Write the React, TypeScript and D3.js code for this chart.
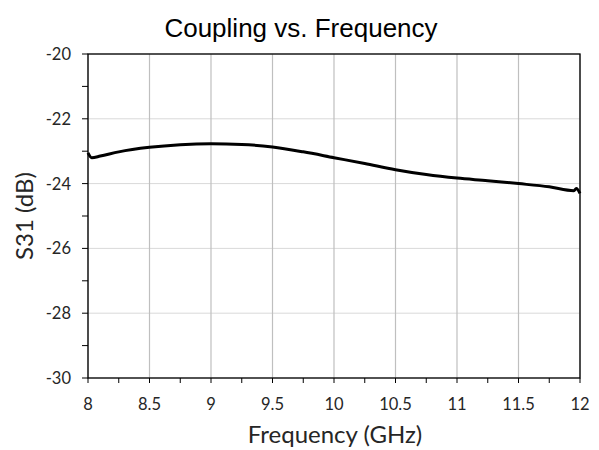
import React from "react";
import * as d3 from "d3";

const freqGHz = [8.0, 8.03, 8.1, 8.25, 8.5, 8.75, 9.0, 9.25, 9.5, 9.75, 10.0, 10.25, 10.5, 10.75, 11.0, 11.25, 11.5, 11.75, 11.95, 11.97, 12.0];
const s31dB = [-23.05, -23.2, -23.15, -23.02, -22.88, -22.8, -22.77, -22.79, -22.87, -23.02, -23.2, -23.38, -23.57, -23.72, -23.83, -23.91, -24.0, -24.1, -24.22, -24.15, -24.3];
const xTicks = [8, 8.5, 9, 9.5, 10, 10.5, 11, 11.5, 12];
const yTicks = [-20, -22, -24, -26, -28, -30];
const title = "Coupling vs. Frequency";
const xTitle = "Frequency (GHz)";
const yTitle = "S31 (dB)";

export default function App() {
  const W = 599, H = 450;
  const left = 88, right = 580, top = 54, bottom = 378;
  const x = d3.scaleLinear().domain([8, 12]).range([left, right]);
  const y = d3.scaleLinear().domain([-30, -20]).range([bottom, top]);
  const pts = freqGHz.map((f, i) => [f, s31dB[i]] as [number, number]);
  const line = d3.line<[number, number]>().x(d => x(d[0])).y(d => y(d[1])).curve(d3.curveMonotoneX);
  const xMinor = d3.range(8, 12.001, 0.25);
  const yMinor = d3.range(-30, -19.999, 1);
  const tickFont = "Lato, 'Open Sans', sans-serif";
  const txt = "#262626";
  return (
    <svg width={W} height={H} style={{ position: "absolute", left: 0, top: 0, background: "#fff" }}>
      <rect x={0} y={0} width={W} height={H} fill="#fff" />
      {yTicks.map(t => (
        <line key={"hg" + t} x1={left} x2={right} y1={y(t)} y2={y(t)} stroke="#d9d9d9" strokeWidth={1} />
      ))}
      {xTicks.map(t => (
        <line key={"vg" + t} x1={x(t)} x2={x(t)} y1={top} y2={bottom} stroke="#bfbfbf" strokeWidth={1.2} />
      ))}
      <rect x={left} y={top} width={right - left} height={bottom - top} fill="none" stroke="#000" strokeWidth={1.3} />
      {xMinor.map(t => (
        <line key={"xt" + t} x1={x(t)} x2={x(t)} y1={bottom} y2={bottom + 5} stroke="#000" strokeWidth={1} />
      ))}
      {yMinor.map(t => (
        <line key={"yt" + t} x1={left - 6} x2={left} y1={y(t)} y2={y(t)} stroke="#000" strokeWidth={1} />
      ))}
      <path d={line(pts) || ""} fill="none" stroke="#000" strokeWidth={3} strokeLinejoin="round" />
      {xTicks.map(t => (
        <text key={"xl" + t} x={x(t)} y={bottom + 32} textAnchor="middle" fontFamily={tickFont} fontSize={16.5} fill={txt}>{String(t)}</text>
      ))}
      {yTicks.map(t => (
        <text key={"yl" + t} x={left - 17} y={y(t) + 6} textAnchor="end" fontFamily={tickFont} fontSize={16.5} fill={txt}>{String(t)}</text>
      ))}
      <text x={301} y={37} textAnchor="middle" fontFamily="'Liberation Sans', Arial, sans-serif" fontSize={26} fill="#000">{title}</text>
      <text x={335} y={443} textAnchor="middle" fontFamily={tickFont} fontSize={24} fill={txt}>{xTitle}</text>
      <text transform={`translate(33, ${(top + bottom) / 2}) rotate(-90)`} textAnchor="middle" fontFamily={tickFont} fontSize={24} fill={txt}>{yTitle}</text>
    </svg>
  );
}
